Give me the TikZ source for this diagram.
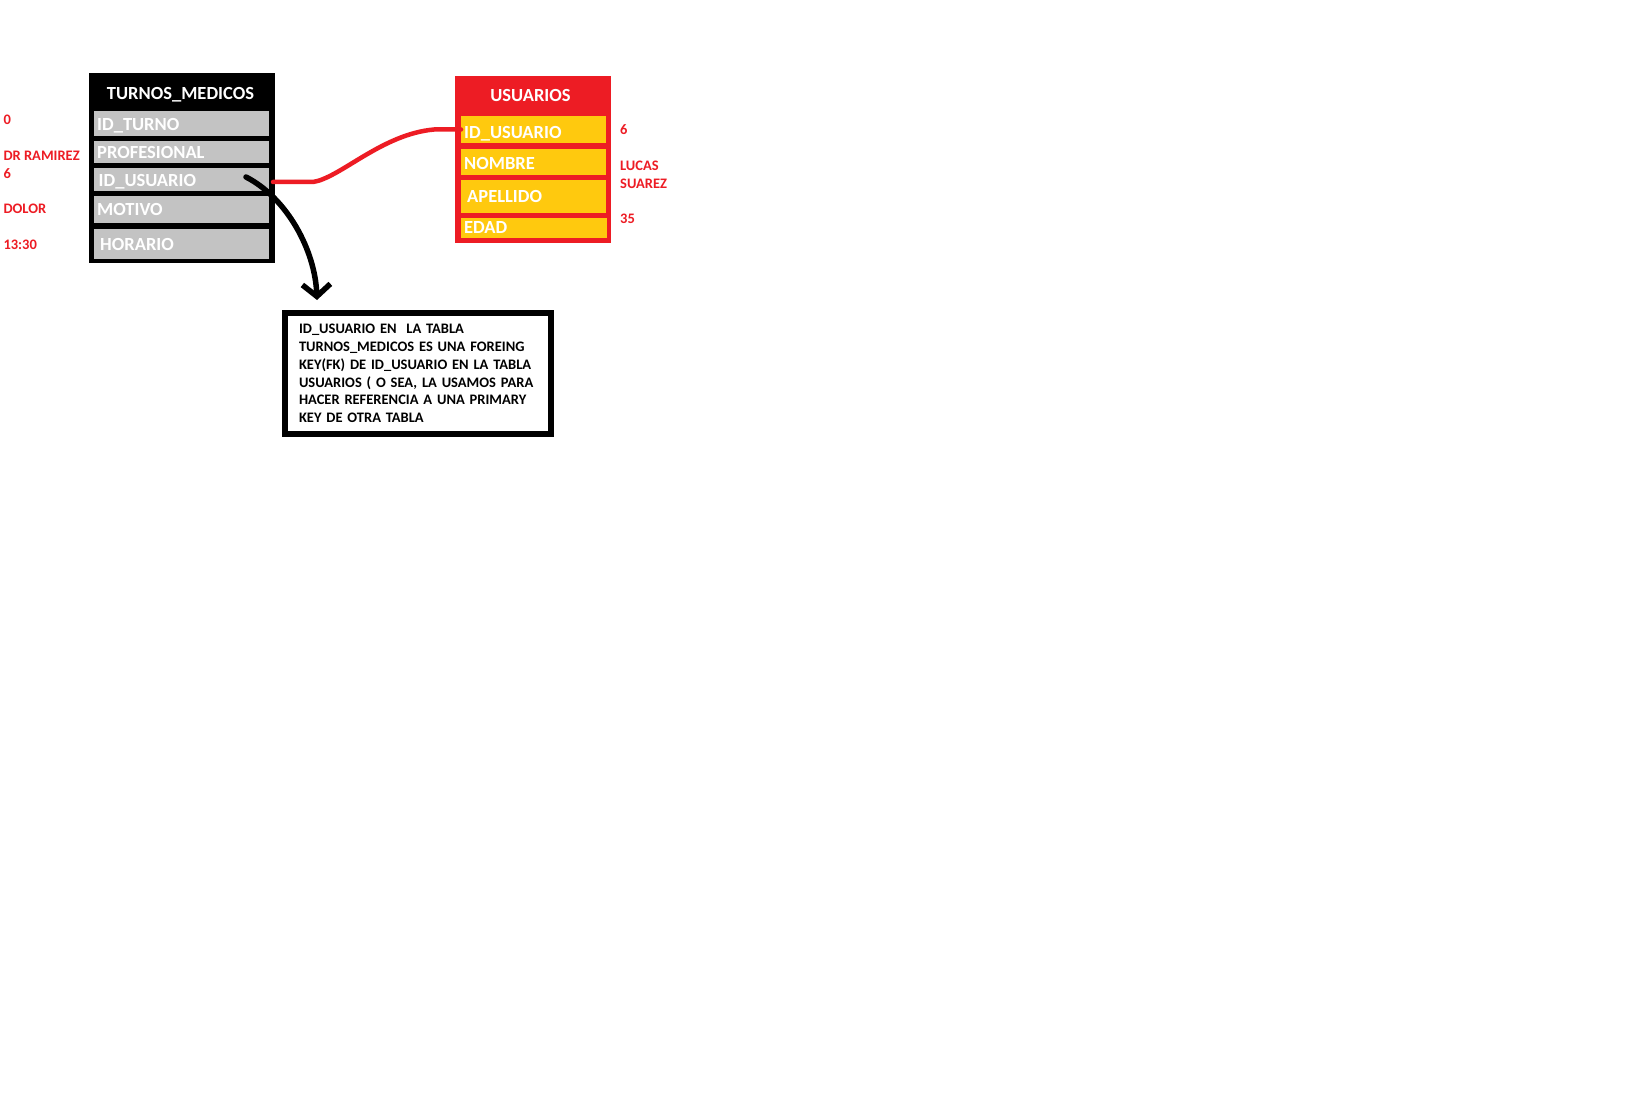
\documentclass[tikz,border=0pt]{standalone}
\usepackage{fontspec}
\setmainfont{Carlito}
\usetikzlibrary{arrows.meta}
\definecolor{pred}{HTML}{ED1C24}
\definecolor{pyel}{HTML}{FFC90E}
\definecolor{pgray}{HTML}{C3C3C3}
\begin{document}
\begin{tikzpicture}[x=1pt,y=-1pt,
  box/.style={inner sep=0pt, outer sep=0pt, draw=none},
  rowtxt/.style={anchor=base west, inner sep=0pt, text=white, font=\fontsize{18.5}{20}\selectfont\bfseries},
  titletxt/.style={anchor=base, inner sep=0pt, text=white, font=\fontsize{18.5}{20}\selectfont\bfseries},
  valtxt/.style={anchor=base west, inner sep=0pt, text=pred, font=\fontsize{14.5}{16}\selectfont\bfseries},
  redline/.style={draw=pred, line width=4.5pt, line cap=round, line join=round},
  blackline/.style={draw=black, line width=5.5pt, line cap=round, line join=round}
]
\useasboundingbox[fill=white] (0,0) rectangle (1626,1110);

% TURNOS_MEDICOS table
\node[box, fill=black, minimum width=186pt, minimum height=190pt] (tm) at (182,168) {};
\node[titletxt] (tmtitle) at (180.5,99.5) {TURNOS\_MEDICOS};
\node[box, fill=pgray, minimum width=175pt, minimum height=25pt] (tturno) at (181.5,123.5) {};
\node[box, fill=pgray, minimum width=175pt, minimum height=22pt] (tprof) at (181.5,152) {};
\node[box, fill=pgray, minimum width=175pt, minimum height=23pt] (tid) at (181.5,179.5) {};
\node[box, fill=pgray, minimum width=175pt, minimum height=27pt] (tmot) at (181.5,209.5) {};
\node[box, fill=pgray, minimum width=175pt, minimum height=30pt] (thor) at (181.5,244) {};
\node[rowtxt] (ttturno) at (97,131) {ID\_TURNO};
\node[rowtxt] (ttprof) at (97,159) {PROFESIONAL};
\node[rowtxt] (ttid) at (98.5,186.5) {ID\_USUARIO};
\node[rowtxt] (ttmot) at (97,215.5) {MOTIVO};
\node[rowtxt] (tthor) at (100,251) {HORARIO};

% values left
\node[valtxt] (v0) at (3.3,124.3) {0};
\node[valtxt] (vdr) at (3.3,161) {DR RAMIREZ};
\node[valtxt] (v6) at (3.3,178.3) {6};
\node[valtxt] (vdol) at (3.3,213.3) {DOLOR};
\node[valtxt] (vhor) at (3.3,249.3) {13:30};

% USUARIOS table
\node[box, fill=pred, minimum width=156pt, minimum height=167pt] (us) at (533,159.5) {};
\node[titletxt] (ustitle) at (530.5,101.7) {USUARIOS};
\node[box, fill=pyel, minimum width=145pt, minimum height=27pt] (uid) at (533.5,129.5) {};
\node[box, fill=pyel, minimum width=145pt, minimum height=26pt] (unom) at (533.5,162) {};
\node[box, fill=pyel, minimum width=145pt, minimum height=33pt] (uape) at (533.5,196.5) {};
\node[box, fill=pyel, minimum width=146pt, minimum height=20pt] (ueda) at (534,228) {};
\node[rowtxt] (tuid) at (464,138.3) {ID\_USUARIO};
\node[rowtxt] (tunom) at (464,170) {NOMBRE};
\node[rowtxt] (tuape) at (467,202.3) {APELLIDO};
\node[rowtxt] (tueda) at (464,233.3) {EDAD};

% values right
\node[valtxt] (w6) at (620,135) {6};
\node[valtxt] (wluc) at (620,171) {LUCAS};
\node[valtxt] (wsua) at (620,188.3) {SUAREZ};
\node[valtxt] (w35) at (620,224) {35};

% note box
\node[draw=black, line width=6pt, fill=white, minimum width=266pt, minimum height=121pt,
      text width=238pt, inner xsep=14pt, align=left,
      font=\fontsize{14.5}{17.8}\selectfont\bfseries] (note) at (418,373.5)
  {ID\_USUARIO EN\ \ LA TABLA\\
   TURNOS\_MEDICOS ES UNA FOREING\\
   KEY(FK) DE ID\_USUARIO EN LA TABLA\\
   USUARIOS ( O SEA, LA USAMOS PARA\\
   HACER REFERENCIA A UNA PRIMARY\\
   KEY DE OTRA TABLA};

% red connector (FK -> PK)
\draw[redline] ([xshift=4pt,yshift=-2.5pt]tid.east) -- ++(40,0)
  .. controls (340,178) and (382,134) .. ([xshift=-27pt]uid.west) -- (uid.west);

% black arrow to the note
\coordinate (fkend) at (317,300);
\draw[blackline, -{Straight Barb[length=12pt,width=28pt]}]
  ([xshift=-23pt,yshift=2.5pt]tid.east) .. controls (287,198) and (315,250) .. (fkend);
\end{tikzpicture}
\end{document}
